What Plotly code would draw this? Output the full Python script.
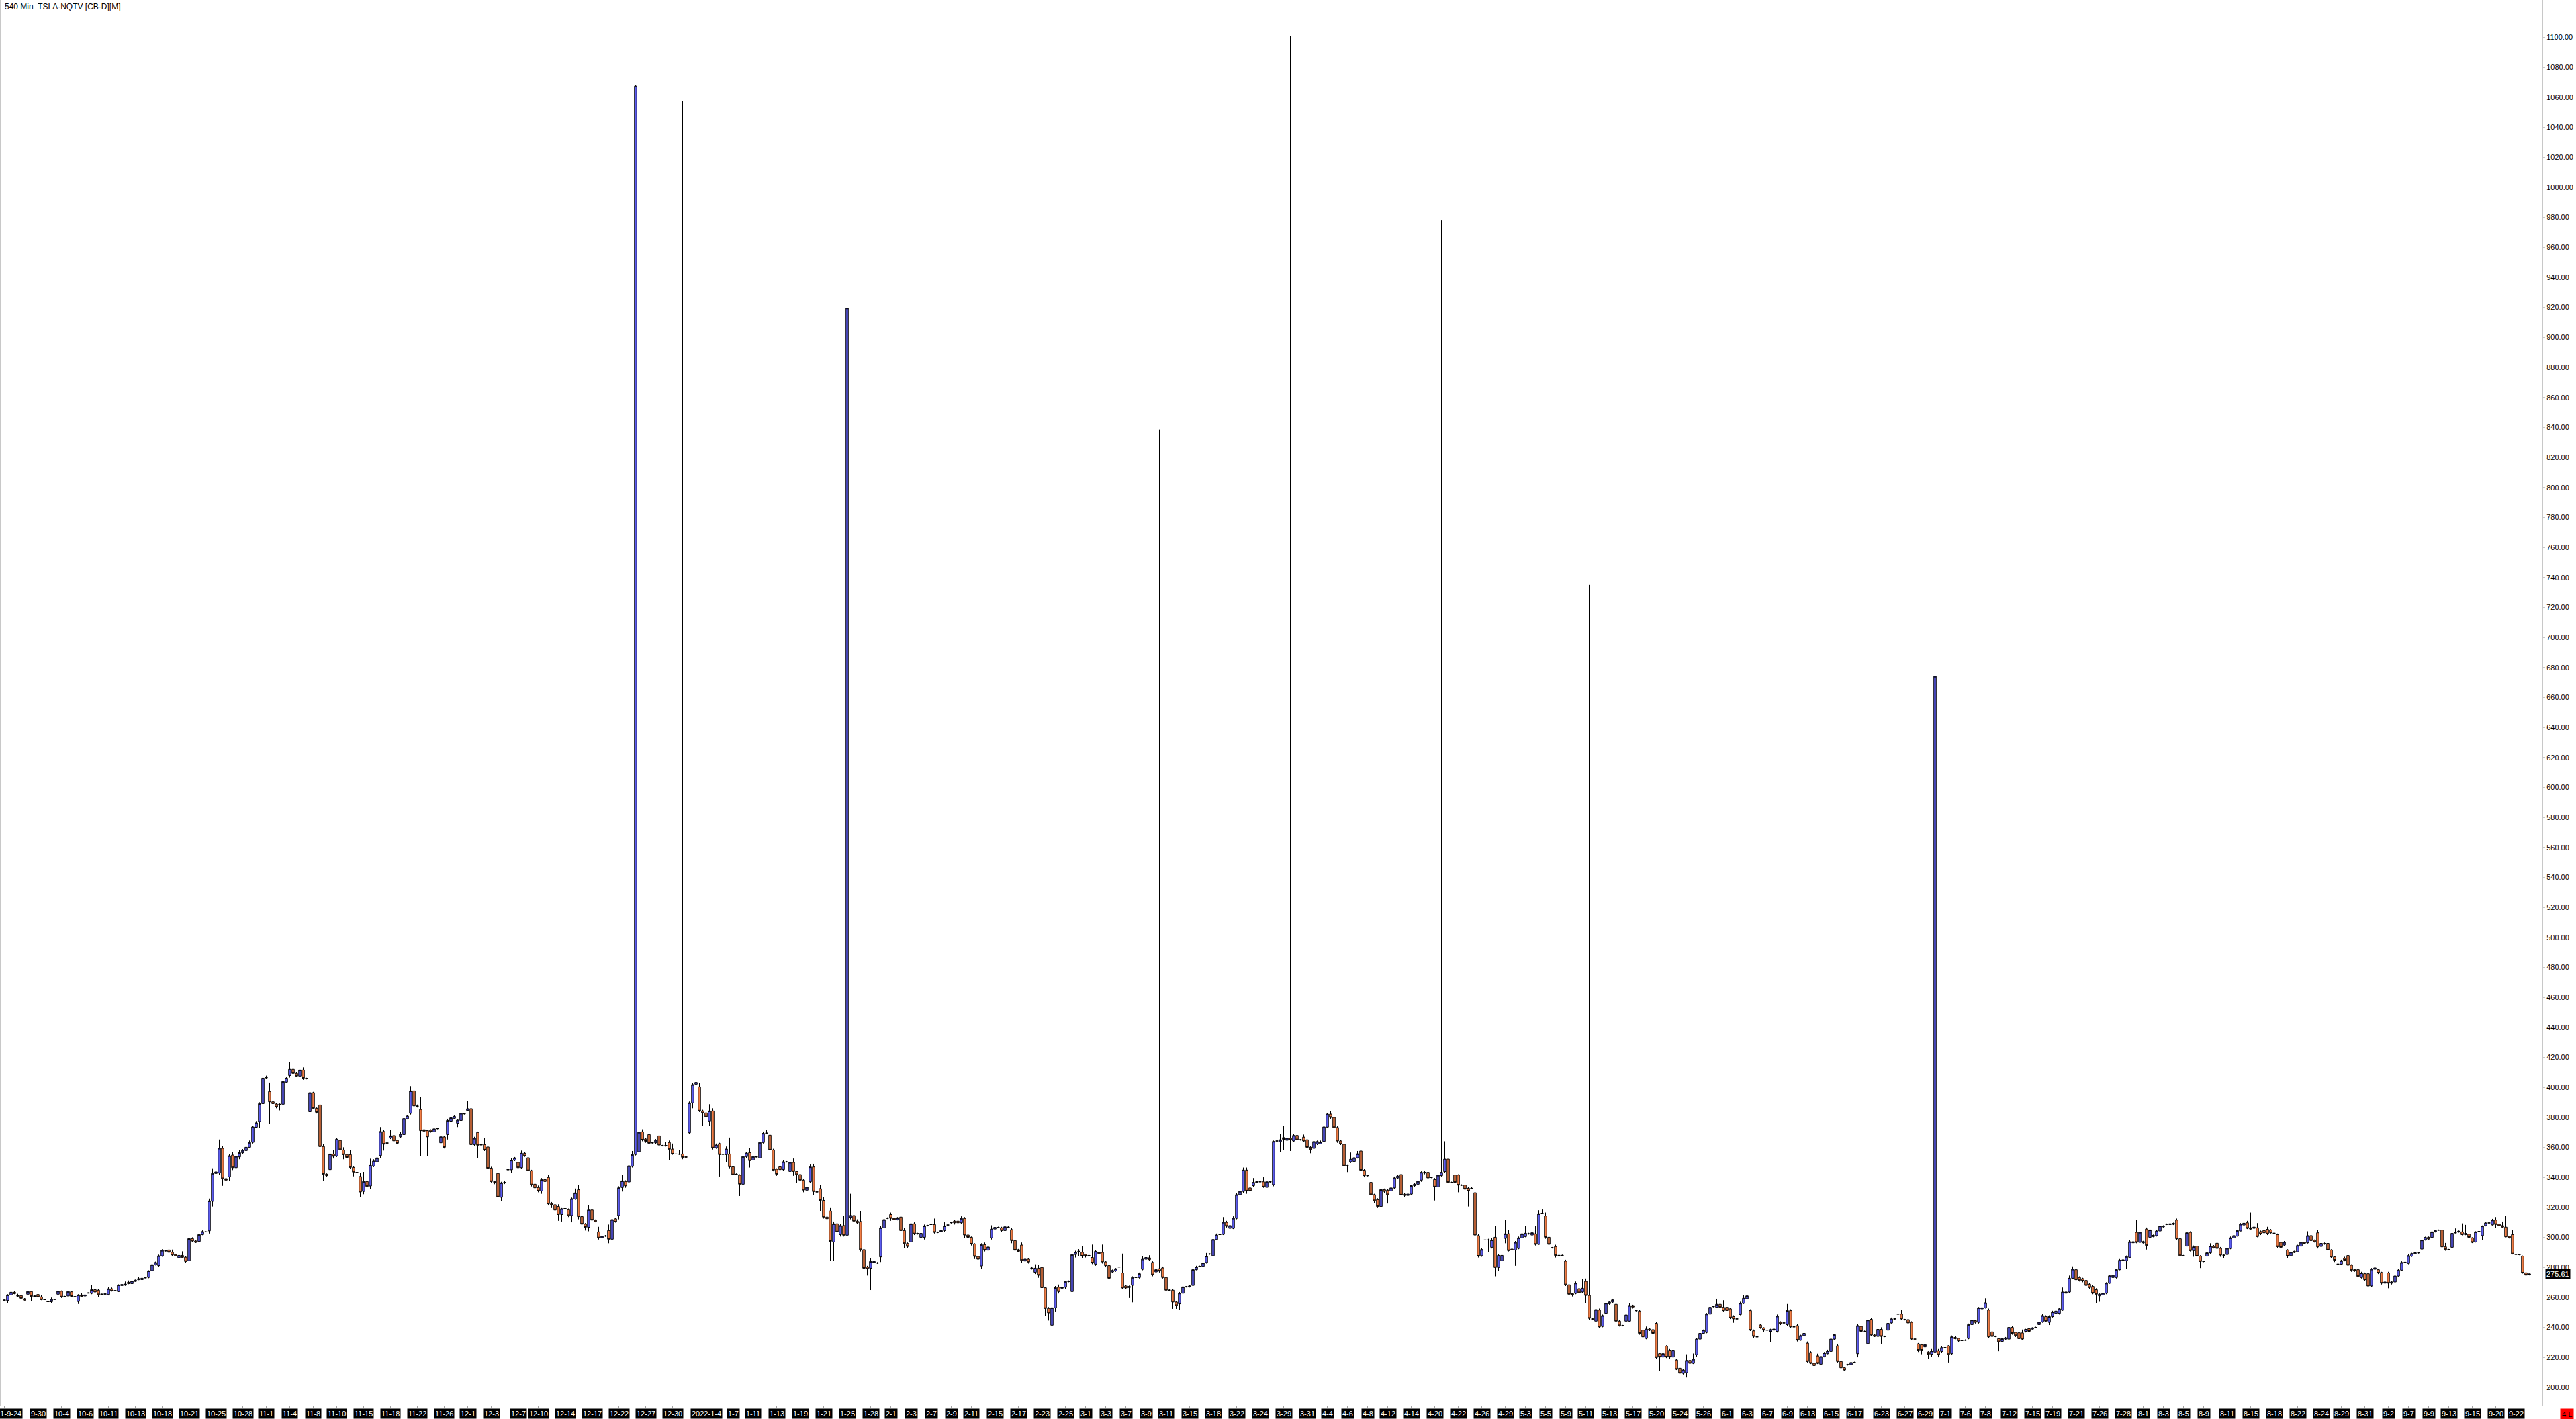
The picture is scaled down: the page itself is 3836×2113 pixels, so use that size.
import plotly.graph_objects as go

# ---------------- data (540-minute bars) ----------------
opens = [
258.0,257.8,261.5,263.3,261.0,261.1,259.0,262.0,263.8,260.6,
261.8,260.2,258.5,257.2,257.0,258.5,262.0,264.0,260.5,260.8,
263.6,260.4,257.2,261.5,260.8,262.7,262.6,265.0,264.7,262.0,
262.0,261.8,265.6,264.3,263.8,267.8,268.1,270.0,269.1,270.6,
271.7,271.8,273.0,273.3,277.8,281.7,281.1,287.6,290.9,291.5,
290.0,288.5,286.4,287.9,286.7,284.4,299.1,297.5,297.2,301.8,
303.6,304.3,324.0,342.6,342.9,359.3,339.1,340.3,354.8,346.4,
353.6,356.3,357.8,360.0,363.3,373.4,377.2,389.1,406.3,397.2,
390.3,388.8,388.7,388.7,403.5,407.9,412.0,409.3,407.5,411.5,
406.0,383.7,396.4,386.0,388.2,360.5,342.1,345.1,355.4,354.2,
364.6,358.2,355.2,355.1,346.6,343.3,340.5,330.6,337.2,334.2,
347.5,350.3,354.5,370.5,362.9,366.3,367.8,364.6,367.0,368.5,
379.0,382.7,397.6,387.5,385.2,371.7,371.1,371.4,370.3,372.4,
363.0,366.9,368.5,377.4,379.3,376.1,377.9,382.3,384.5,385.7,
361.8,369.9,361.8,361.8,360.2,346.1,337.0,342.6,326.7,336.4,
345.0,345.0,351.4,349.9,346.4,356.0,353.0,344.4,335.4,
333.2,330.9,338.5,339.9,322.4,321.7,320.5,315.2,319.0,318.4,
314.5,325.5,331.7,313.8,308.8,306.7,318.2,311.4,303.6,299.6,
300.8,304.5,298.7,312.3,314.5,333.2,337.2,336.9,347.3,355.2,
357.0,370.3,365.5,368.5,363.0,363.0,367.6,361.1,361.1,363.2,
358.8,355.5,355.5,355.5,353.6,369.7,389.6,402.1,400.3,384.2,
382.9,377.5,384.2,359.7,362.4,355.4,355.1,355.5,347.0,342.1,
341.4,335.4,353.8,356.4,351.5,353.6,352.9,363.2,369.4,368.1,
358.2,345.4,347.0,345.1,350.2,343.9,349.9,343.9,341.8,338.1,
331.4,337.0,346.9,330.3,332.4,324.6,313.5,317.5,296.9,309.0,
301.8,307.8,301.4,313.3,314.5,310.8,310.5,291.7,280.2,279.4,
283.0,282.9,286.9,306.3,312.7,315.2,312.7,311.8,313.5,304.5,
295.8,296.9,309.0,302.6,300.0,300.0,307.8,308.5,308.5,303.3,
303.6,304.5,308.2,309.7,310.8,310.8,309.7,312.6,301.5,300.0,
295.5,287.2,280.9,295.1,291.4,299.6,305.5,306.6,306.3,304.5,
306.8,305.1,297.8,291.7,294.8,284.2,285.4,279.5,276.7,279.4,
279.9,266.3,252.6,241.4,253.0,266.7,266.0,266.7,270.5,263.8,
288.5,290.6,290.0,288.5,287.9,286.5,282.1,290.0,289.9,283.6,
281.1,276.9,277.6,280.2,276.2,267.5,266.5,268.0,273.2,273.2,
278.7,285.4,286.3,283.2,276.9,279.0,279.6,273.2,264.7,264.7,
256.8,255.6,262.7,267.0,267.0,267.9,278.4,280.6,280.6,283.2,
288.8,287.7,298.5,301.8,302.0,310.0,306.0,306.0,312.7,328.4,
330.6,344.8,332.9,334.4,336.6,337.0,337.0,333.3,337.0,335.1,
364.2,363.8,366.5,364.7,366.0,364.2,367.9,365.0,366.8,365.0,
360.0,359.3,362.3,362.3,363.9,373.5,382.1,379.9,373.2,364.2,
362.0,347.6,350.3,350.5,353.0,357.5,344.7,341.1,336.6,328.4,
325.1,320.5,331.8,331.4,330.9,332.9,339.6,341.8,328.7,327.9,
328.8,334.4,335.4,338.1,342.9,343.3,339.9,338.5,333.6,341.1,
343.8,352.1,336.6,341.5,341.5,334.8,334.8,332.7,332.7,329.7,
301.1,287.7,298.2,298.2,293.3,300.0,279.9,284.4,299.3,302.3,
292.1,291.5,292.6,299.6,300.5,302.3,301.5,302.3,295.3,316.0,
314.2,300.0,293.0,293.8,287.9,287.9,284.1,268.3,262.4,262.6,
265.7,263.5,270.6,261.2,245.6,244.1,251.5,240.6,249.3,255.7,
256.8,255.3,244.1,241.1,244.1,244.1,254.5,251.1,250.8,238.1,
232.6,238.8,238.4,242.6,222.4,220.2,227.4,224.7,220.2,218.2,
212.7,209.3,209.7,217.9,216.0,221.7,232.1,235.9,236.6,248.8,
253.8,253.3,255.3,253.3,253.3,252.3,247.1,245.6,248.5,256.0,
259.0,251.1,237.6,233.6,241.5,239.6,238.1,237.3,238.1,237.3,
243.3,242.9,241.8,251.1,240.3,241.1,231.4,234.4,229.4,223.2,
216.0,220.9,215.4,220.5,222.4,223.9,232.1,227.6,217.2,213.0,
215.0,215.1,216.6,222.4,240.6,237.3,229.1,245.3,234.8,233.9,
238.6,233.9,238.1,242.9,245.6,248.8,248.8,245.1,245.1,243.3,
232.1,228.9,228.4,226.9,223.5,222.0,223.5,224.4,223.9,226.4,
227.6,222.4,233.2,232.6,231.1,231.4,232.6,241.8,244.4,243.3,
252.3,253.0,251.5,236.9,233.9,232.4,230.6,232.1,232.1,239.9,
236.6,236.3,236.2,237.3,239.1,238.8,239.9,241.8,243.6,247.1,
243.3,247.1,249.3,249.3,251.5,262.7,263.5,272.7,278.4,273.2,
272.4,271.2,268.7,267.2,265.0,260.9,261.5,262.7,269.4,273.2,
273.2,278.4,284.4,284.4,286.6,296.3,303.3,296.6,296.3,305.5,
300.0,300.5,301.1,304.2,307.0,308.7,308.5,308.7,311.5,299.0,
287.7,294.1,303.3,291.1,294.1,287.4,283.9,287.4,289.6,294.1,
296.0,292.6,288.0,288.5,292.6,299.6,300.8,304.2,308.2,309.7,
306.3,306.0,306.3,303.8,304.5,305.3,304.9,302.7,301.8,296.6,
294.8,291.5,287.7,290.6,290.3,294.1,296.6,296.3,301.1,298.1,
303.0,293.9,295.9,295.9,291.5,286.9,282.1,282.1,285.9,287.8,
281.4,278.4,278.4,273.2,275.7,275.7,267.5,278.7,278.4,276.5,
269.4,276.2,269.4,270.2,274.2,278.1,283.4,282.6,287.4,289.1,
289.6,292.1,298.4,300.0,299.9,303.6,304.8,304.8,293.6,291.8,
293.3,303.0,303.5,303.6,301.8,302.1,299.6,296.9,303.9,301.1,
307.8,309.6,308.3,311.5,308.9,307.8,306.8,300.6,301.8,288.6,
288.4,287.4,276.3,274.9,
]

highs = [
258.3,262.0,266.7,264.0,262.3,261.6,259.4,265.0,264.2,261.2,
263.5,261.5,258.8,257.6,259.8,258.8,269.1,264.5,260.9,264.5,
264.0,260.6,262.0,262.8,261.8,263.2,268.2,265.8,265.5,262.3,
262.5,266.8,266.5,264.6,268.6,271.0,270.5,271.2,271.5,271.8,
273.5,273.0,273.3,278.0,282.2,283.8,288.4,292.0,291.3,293.3,
291.8,289.0,288.4,290.6,287.2,301.0,300.0,297.9,302.5,304.6,
304.0,325.8,346.0,345.5,365.2,361.0,340.5,355.5,356.9,357.5,
358.0,358.8,360.8,364.5,374.5,377.5,390.0,408.5,407.8,403.2,
396.9,389.5,389.2,405.5,406.7,417.0,413.8,410.0,413.3,413.3,
406.4,399.1,397.0,386.5,396.0,362.0,342.6,359.6,358.0,366.0,
373.5,360.0,356.0,358.0,347.2,344.0,343.0,343.6,338.0,352.4,
352.0,353.5,373.5,371.5,363.3,371.5,368.5,365.0,370.3,380.0,
381.5,400.8,399.3,388.5,393.6,378.7,371.8,372.0,377.5,373.0,
368.0,367.5,379.0,380.5,381.2,378.5,389.9,383.0,390.9,387.9,
367.0,370.5,362.2,366.4,366.4,347.0,337.6,343.5,337.0,337.8,
348.8,352.6,353.5,350.5,357.8,356.6,354.8,345.0,336.0,
334.5,339.5,340.0,341.4,323.5,322.5,322.0,319.5,319.8,319.2,
326.5,332.5,334.8,314.5,309.5,321.5,321.5,311.9,307.0,301.2,
301.5,308.5,312.5,312.8,334.0,341.5,338.0,349.5,357.5,1068.0,
372.5,372.0,366.0,372.5,363.5,365.5,371.0,361.6,363.5,364.5,
362.5,356.0,358.0,1057.5,354.0,390.5,403.0,404.5,403.0,385.0,
383.5,388.7,386.0,362.5,363.0,356.0,360.5,366.5,347.5,342.6,
342.0,355.0,357.0,359.5,354.5,354.0,364.0,370.5,371.5,370.5,
359.0,346.0,348.0,351.5,350.8,350.5,352.5,344.5,352.5,339.0,
334.5,348.5,349.0,331.0,334.8,326.8,314.0,319.5,310.5,310.5,
309.0,314.5,919.5,329.0,329.4,312.0,317.5,292.5,281.0,286.0,
285.5,283.5,307.5,313.0,313.3,316.5,313.0,313.5,314.0,306.0,
296.5,310.0,310.0,303.0,303.5,308.5,308.3,309.0,312.5,303.8,
305.0,310.0,308.7,310.3,311.5,312.5,314.0,313.5,302.0,300.5,
296.0,288.0,296.0,296.5,294.0,308.0,307.5,307.1,307.0,307.8,
307.3,306.0,298.5,292.2,296.5,286.0,286.0,280.5,282.0,281.5,
281.0,267.0,253.5,254.0,267.5,268.5,267.5,271.0,271.2,289.5,
291.0,292.1,293.9,289.0,288.4,295.1,291.5,290.5,295.1,284.0,
282.0,278.5,279.5,281.5,289.1,268.0,267.8,274.0,273.8,276.5,
287.2,287.0,288.0,284.0,279.0,838.5,280.5,274.0,265.2,265.5,
257.5,263.5,267.5,267.5,268.0,279.0,281.0,281.1,283.5,289.5,
289.3,299.5,302.5,302.3,313.5,311.0,308.5,314.0,329.5,331.5,
346.5,346.5,334.0,339.5,337.5,337.5,340.0,338.0,337.5,364.5,
364.7,369.0,374.5,367.0,1101.0,369.0,369.5,365.5,368.5,366.0,
361.0,365.0,364.5,364.5,374.5,383.0,384.0,384.5,374.0,365.0,
363.0,348.2,356.5,354.0,357.5,359.5,345.5,341.6,337.5,329.0,
326.0,335.0,332.5,332.0,334.0,340.5,341.5,342.5,329.5,329.5,
335.0,336.0,338.0,344.0,344.5,344.0,340.4,339.5,342.5,978.0,
364.0,353.0,337.1,347.5,342.0,335.3,335.5,333.5,333.5,330.5,
302.0,293.0,300.5,299.0,299.5,307.5,289.0,288.5,311.5,305.0,
293.0,297.5,300.5,303.5,307.5,303.0,303.5,307.5,318.0,318.5,
316.5,300.5,293.5,295.0,289.5,288.4,285.0,269.0,263.0,270.5,
266.5,272.0,272.5,735.0,246.0,253.0,252.5,248.5,260.5,257.5,
259.0,257.5,245.0,241.6,249.0,256.0,255.0,251.6,251.5,239.0,
240.5,239.5,239.0,243.5,223.0,223.0,228.0,225.5,225.5,219.0,
213.5,212.0,222.0,218.5,222.5,233.0,236.5,238.5,249.5,254.5,
254.3,259.0,256.0,258.0,254.0,253.0,248.0,246.1,257.0,261.5,
261.5,252.0,238.5,234.1,242.0,240.0,238.6,239.0,239.5,248.5,
244.0,243.4,255.5,252.0,240.8,242.0,235.0,236.5,230.5,224.0,
216.5,222.4,221.0,223.5,225.0,232.8,235.5,229.0,218.0,213.5,
215.6,217.5,217.1,242.0,243.4,237.8,247.0,246.0,235.5,239.5,
240.0,234.4,243.5,246.5,246.1,249.3,251.8,245.6,248.5,244.0,
232.6,229.5,229.0,229.0,224.0,225.5,674.0,225.5,227.5,226.9,
228.0,234.5,234.0,233.0,231.6,231.9,242.5,245.5,245.0,253.5,
253.5,259.3,252.5,237.5,234.4,233.0,233.0,233.5,242.5,241.0,
237.0,237.0,238.5,239.0,240.5,240.0,240.4,244.0,249.0,248.0,
248.0,251.0,251.5,253.0,266.5,266.5,274.5,280.6,280.0,274.0,
273.0,272.0,269.5,268.0,266.0,262.5,263.2,270.0,275.0,275.0,
279.0,285.5,285.5,287.8,298.0,297.5,311.5,304.0,297.6,306.5,
306.5,301.8,304.8,308.0,308.0,309.2,311.5,309.8,312.5,299.5,
288.2,304.0,304.0,294.5,295.0,288.0,284.4,292.0,296.0,294.8,
297.5,293.5,288.5,293.5,300.5,302.0,305.0,309.5,314.5,311.0,
316.5,307.5,309.5,304.5,305.0,307.0,305.5,303.2,302.5,297.5,
297.5,292.0,290.5,291.0,295.0,298.5,297.0,304.0,302.0,298.5,
305.0,296.5,296.5,296.5,292.0,287.5,282.6,285.0,287.0,292.0,
282.0,279.0,279.0,277.0,276.5,276.5,279.5,281.0,279.0,277.0,
270.8,277.0,271.0,275.0,279.0,284.0,283.9,289.0,289.6,290.1,
290.1,298.5,300.4,300.5,305.3,305.0,305.2,307.4,296.2,292.2,
303.0,305.9,304.5,309.3,308.3,302.5,300.0,304.0,304.3,307.9,
310.0,310.0,312.3,313.5,309.3,310.5,314.2,301.0,305.1,292.9,
288.8,287.8,279.4,275.8,
]

lows = [
257.8,256.3,261.0,262.0,260.2,256.0,257.8,261.5,257.5,260.3,
259.8,258.0,258.1,255.1,256.0,258.3,261.5,259.5,260.0,260.2,
260.0,260.0,255.5,260.2,260.5,262.5,262.0,263.0,260.0,261.7,
261.8,261.2,263.8,264.0,263.5,267.3,267.6,268.7,268.8,270.3,
271.4,271.4,272.7,272.7,277.4,281.2,280.2,287.0,290.5,289.5,
287.5,287.2,285.9,286.0,283.0,283.8,297.0,296.2,296.8,301.4,
303.3,302.5,320.5,341.0,341.5,334.3,337.4,337.6,344.8,346.0,
352.0,355.5,357.0,359.5,362.5,372.8,372.8,388.5,405.5,375.7,
384.3,386.0,384.6,384.6,402.8,406.5,408.5,407.0,402.9,405.0,
405.3,377.2,385.3,382.5,344.3,337.6,340.5,329.4,352.5,353.5,
357.5,352.0,352.5,345.5,340.6,342.5,326.9,328.7,333.0,332.4,
346.8,349.8,353.0,357.8,362.3,365.5,358.4,362.0,366.2,368.2,
378.5,381.8,386.5,386.5,354.3,370.0,354.3,369.8,369.8,372.0,
357.8,359.2,365.2,377.0,379.0,373.5,372.7,381.8,384.0,361.0,
361.0,352.9,361.2,357.5,345.0,336.5,335.4,317.5,324.2,335.5,
337.0,342.8,350.8,343.6,345.8,353.6,343.8,333.9,331.0,
330.0,329.0,336.5,321.2,319.5,317.0,311.0,310.5,318.5,313.5,
310.0,325.0,312.0,307.0,304.5,304.0,310.5,310.0,298.5,299.0,
300.3,296.0,296.3,309.8,312.0,330.5,333.0,336.0,346.5,354.5,
356.0,364.0,363.0,360.5,362.5,362.2,355.0,360.6,360.5,351.5,
355.0,355.0,354.9,352.0,353.0,369.0,386.0,401.0,383.5,374.5,
379.5,374.5,358.5,359.0,340.5,354.8,350.0,346.0,337.0,341.5,
327.5,335.0,353.0,346.5,350.8,353.2,352.0,362.5,369.0,357.5,
344.0,341.0,332.0,344.5,349.8,337.5,341.0,336.0,335.5,330.0,
330.5,336.0,328.0,329.0,317.5,312.5,311.5,284.5,284.3,302.5,
300.5,300.5,300.5,312.0,293.6,309.0,290.5,274.0,274.5,264.8,
282.5,282.3,283.5,305.5,312.2,311.0,311.0,311.3,303.0,293.0,
293.0,295.5,301.5,301.8,293.5,298.5,307.3,308.0,302.5,302.8,
300.0,303.5,307.7,309.2,308.5,309.0,309.0,299.5,298.0,294.5,
285.5,284.5,279.0,290.5,290.5,298.5,305.0,306.1,303.5,302.5,
306.2,296.0,289.5,290.0,283.0,281.5,282.5,278.5,275.5,273.0,
264.5,247.5,244.5,231.0,250.5,262.5,265.2,265.5,270.0,262.5,
286.5,287.4,285.9,286.5,287.3,282.1,281.0,288.5,282.5,280.0,
271.5,276.0,277.0,279.5,265.5,265.5,259.5,256.6,272.6,272.5,
278.0,285.0,284.5,274.0,276.0,276.5,272.5,263.5,264.2,252.3,
252.3,251.8,262.0,266.5,266.5,267.0,278.0,280.1,280.0,282.5,
288.3,287.0,298.0,301.3,301.5,306.5,305.5,305.5,312.0,327.0,
329.5,329.0,328.5,333.5,336.0,336.5,333.0,332.5,336.5,334.0,
363.7,357.0,358.0,364.0,357.5,363.5,364.0,364.5,363.5,358.0,
356.0,355.0,361.5,362.0,363.0,373.0,379.0,372.5,363.0,361.5,
346.5,343.5,349.5,349.5,352.5,344.0,340.0,340.6,327.5,323.0,
319.5,320.0,329.5,322.5,330.0,332.0,339.0,327.5,327.0,327.0,
328.0,333.5,333.0,337.0,342.0,339.0,339.4,324.5,333.0,340.5,
343.0,335.5,336.1,335.0,330.0,334.3,328.5,320.5,332.0,300.5,
286.5,287.0,287.5,290.0,292.5,274.0,277.5,284.0,296.0,290.5,
291.0,281.0,292.0,299.0,300.0,301.8,298.0,294.5,295.0,315.5,
299.0,294.0,292.5,286.5,281.5,287.4,267.5,261.0,260.5,262.0,
262.0,263.0,256.0,245.0,245.0,226.5,239.5,240.0,248.5,255.0,
256.0,243.0,240.5,240.6,243.5,243.5,252.5,250.6,235.0,233.0,
232.0,237.5,235.0,219.0,211.0,219.5,219.5,219.0,214.0,211.5,
207.0,208.5,206.5,215.5,215.5,220.5,231.5,235.5,236.0,248.0,
253.3,253.0,250.5,250.5,250.5,245.5,243.0,245.1,248.0,255.5,
258.5,237.5,233.0,233.1,239.0,237.0,237.6,230.0,237.5,236.5,
241.5,242.4,241.0,239.5,239.8,230.5,231.0,234.0,216.5,215.5,
213.5,215.5,214.0,220.0,222.0,223.0,231.5,216.5,208.5,211.0,
214.5,214.5,216.1,220.0,236.5,236.8,228.5,234.0,233.5,229.0,
229.0,233.4,237.5,242.5,245.1,248.3,245.0,244.6,242.0,231.5,
231.6,223.5,222.0,226.5,219.0,220.5,222.0,220.0,223.0,225.9,
216.5,221.5,232.0,230.0,227.5,230.9,232.0,241.0,242.5,242.5,
251.8,252.5,233.0,233.0,233.4,224.0,230.0,231.5,231.5,235.0,
233.5,231.5,231.5,236.5,236.5,238.5,239.4,241.0,243.0,243.5,
241.5,246.5,248.5,248.5,251.0,262.0,263.0,272.0,271.0,270.5,
270.0,267.0,265.5,262.0,256.0,257.0,261.0,262.0,269.0,272.5,
272.5,278.0,284.0,279.0,286.0,295.8,296.0,296.0,295.8,291.8,
299.5,300.0,300.5,303.5,306.5,308.2,308.0,308.2,298.0,284.0,
287.2,293.5,290.5,287.0,282.5,279.5,283.4,287.0,289.0,292.5,
292.0,287.0,286.0,288.0,292.0,299.0,300.5,304.0,307.5,305.5,
305.0,305.5,300.0,301.5,302.5,301.5,302.5,302.2,293.0,292.0,
294.0,286.0,287.0,289.5,290.0,293.5,295.5,295.8,297.0,296.5,
292.5,293.5,295.0,291.0,286.0,283.5,281.6,281.5,284.0,280.5,
277.0,277.0,270.0,272.5,271.0,266.5,267.0,278.0,275.5,268.5,
269.0,266.0,268.5,269.5,273.5,277.5,282.9,282.0,286.9,288.6,
289.1,291.5,297.8,298.3,299.5,303.2,304.4,291.7,291.0,291.4,
290.6,302.6,303.1,301.3,301.4,299.5,296.1,296.5,303.5,298.1,
307.3,309.2,307.9,306.3,307.4,306.4,300.0,299.2,288.5,286.2,
288.0,275.8,273.0,274.6,
]

closes = [
258.1,261.5,263.3,262.4,260.8,259.3,258.0,263.8,260.5,260.8,
260.2,258.4,258.4,257.0,258.5,258.6,264.0,260.2,260.5,263.8,
260.6,260.3,261.5,260.6,261.5,262.9,265.0,263.5,261.7,262.0,
262.2,265.6,264.2,264.4,268.2,268.5,268.8,269.1,270.8,271.4,
272.4,272.7,273.0,277.6,281.7,283.2,287.6,291.2,290.9,290.0,
288.2,287.6,287.9,286.6,283.9,299.1,297.5,296.6,301.8,303.8,
303.6,324.2,342.6,343.6,359.3,339.1,338.1,354.3,346.4,353.9,
356.4,357.9,360.0,363.2,373.6,376.3,389.1,406.1,406.5,390.3,
389.1,386.9,388.6,403.9,406.1,412.0,409.3,407.5,411.5,406.1,
405.8,396.4,386.0,383.3,360.5,342.1,341.1,355.5,354.0,365.4,
358.4,355.1,353.2,346.6,343.5,343.1,330.2,337.2,333.9,347.9,
350.8,352.9,370.5,362.1,362.8,367.6,364.3,362.7,368.7,379.1,
380.8,397.6,387.6,387.4,371.1,370.8,367.0,370.3,372.3,372.5,
367.0,360.0,377.9,379.6,380.6,378.1,382.6,382.3,385.7,361.8,
366.0,361.4,361.6,358.2,346.0,337.2,336.8,326.9,336.3,336.5,
345.1,351.4,352.9,346.4,356.0,354.2,344.4,335.0,333.0,
330.9,338.4,337.2,322.3,321.5,318.2,315.2,319.0,319.2,314.5,
325.7,329.6,313.8,308.8,306.7,318.2,311.5,310.5,299.6,300.6,
300.9,298.7,311.8,310.3,333.0,337.6,334.3,347.6,355.1,1067.5,
370.0,364.9,364.0,362.7,363.0,364.6,361.5,361.1,361.2,358.7,
355.5,355.5,355.4,353.3,353.4,389.6,401.8,403.3,384.2,382.9,
380.2,384.2,359.6,361.5,355.1,355.3,358.8,347.0,341.7,342.0,
335.4,353.8,356.1,351.1,353.8,353.6,363.2,369.3,369.5,358.2,
344.8,342.1,345.1,350.3,350.2,349.9,343.9,341.8,338.1,331.5,
333.3,346.9,330.5,330.2,324.6,313.5,312.4,297.3,309.0,303.6,
307.8,301.4,919.5,314.5,310.8,309.7,291.7,279.4,279.0,283.9,
283.9,282.9,306.3,311.8,312.8,312.7,311.8,313.0,304.5,295.8,
293.9,309.0,302.3,302.3,302.6,307.6,307.8,308.6,303.3,303.4,
304.5,307.6,308.2,309.8,309.7,309.7,312.6,301.5,300.0,295.5,
287.2,285.4,295.1,291.4,293.5,305.5,306.6,306.6,304.5,307.0,
306.7,297.8,291.4,290.6,284.6,285.4,283.5,279.4,279.4,274.7,
266.4,252.6,249.6,253.0,266.4,263.8,266.7,270.5,270.6,288.4,
290.0,290.6,287.4,287.4,287.8,282.9,290.6,289.1,283.6,281.1,
272.7,277.9,279.0,280.2,266.2,266.2,267.2,273.2,273.2,275.7,
285.4,286.5,285.1,275.0,278.4,277.5,273.2,264.7,264.7,256.8,
254.5,262.7,266.9,267.0,267.5,278.4,280.2,280.6,282.9,287.4,
288.8,298.5,301.5,301.8,310.0,307.4,307.8,312.7,328.4,330.6,
344.8,330.9,330.9,336.6,337.0,337.0,333.6,337.0,337.0,363.9,
364.2,365.0,365.3,366.0,365.0,367.9,365.0,365.0,364.2,360.0,
358.5,363.8,363.8,363.5,373.6,382.1,379.9,373.2,364.2,362.3,
347.5,347.6,352.0,353.0,355.6,344.7,341.1,341.1,328.4,324.4,
320.5,331.8,330.6,328.4,332.9,339.6,340.8,328.2,327.9,328.8,
334.4,335.4,337.3,343.3,343.3,339.6,339.9,333.6,341.4,343.3,
352.1,336.6,336.6,336.6,334.8,334.8,332.1,330.9,332.6,301.5,
287.4,291.8,298.2,298.2,298.2,279.9,287.9,287.9,302.3,291.1,
291.5,296.6,299.6,302.3,302.7,302.3,303.0,295.3,315.7,316.0,
300.0,295.3,293.0,287.8,287.9,287.9,268.3,262.0,261.5,269.4,
263.0,266.0,261.2,246.0,245.5,251.8,240.3,247.8,256.0,256.8,
258.2,244.1,241.1,241.1,248.2,254.5,253.5,251.1,235.9,233.6,
238.8,238.1,235.9,219.9,220.2,222.4,220.2,220.2,224.7,212.0,
209.4,211.5,217.9,216.0,218.7,232.1,235.9,238.1,248.8,253.3,
253.8,255.3,253.3,251.1,251.2,246.3,245.6,245.6,256.0,259.3,
260.9,238.1,233.9,233.6,239.6,238.1,238.1,238.4,238.8,247.4,
242.3,242.9,251.1,240.3,240.3,231.4,234.4,235.9,217.2,216.0,
214.5,216.0,220.5,222.9,224.2,232.1,235.1,217.2,213.0,211.5,
215.1,216.5,216.6,241.1,237.3,237.3,244.8,234.8,233.9,238.6,
233.9,233.9,242.6,245.6,245.6,248.8,245.6,245.1,242.9,232.1,
232.1,224.7,224.7,228.4,222.0,224.2,674.0,221.7,226.4,226.4,
221.9,233.6,232.4,230.9,231.1,231.4,241.8,244.8,243.3,253.0,
253.0,256.3,233.6,233.9,233.9,230.3,232.4,232.9,239.9,235.9,
234.4,232.4,232.1,238.6,237.3,239.6,239.9,243.3,247.8,244.1,
247.1,250.3,250.8,252.3,263.5,263.5,272.7,278.7,271.7,271.2,
270.9,267.9,266.5,262.7,262.0,262.0,262.7,269.4,274.3,274.6,
278.4,284.7,284.9,287.1,297.0,297.0,296.6,303.3,297.1,294.5,
304.9,301.3,304.2,307.5,307.5,308.7,309.0,309.3,299.0,287.7,
287.7,303.0,291.1,293.6,287.4,283.9,283.9,289.6,294.1,293.0,
292.6,288.1,288.0,292.6,299.6,301.1,304.5,308.7,309.4,306.0,
305.5,306.8,300.5,302.3,303.0,302.3,303.0,302.7,293.8,293.3,
296.6,287.4,290.0,289.9,294.5,296.6,296.0,301.1,297.8,297.0,
293.6,295.9,295.5,291.5,286.9,284.7,282.1,284.4,284.7,281.4,
278.1,277.6,273.9,276.2,271.7,267.5,278.7,279.6,276.2,269.4,
270.2,269.4,270.2,274.2,278.1,283.2,283.4,287.7,289.1,289.6,
289.6,298.1,299.9,298.8,303.6,304.5,304.8,293.6,291.8,291.8,
302.6,303.0,304.1,301.8,302.6,300.0,296.6,303.6,303.9,307.5,
309.6,309.6,311.5,308.6,307.8,306.8,300.3,299.6,288.9,288.6,
288.4,276.2,274.8,275.61,
]

tick_labels = [
"2021-9-24","9-30","10-4","10-6","10-11","10-13","10-18","10-21","10-25","10-28",
"11-1","11-4","11-8","11-10","11-15","11-18","11-22","11-26","12-1","12-3",
"12-7","12-10","12-14","12-17","12-22","12-27","12-30","2022-1-4","1-7","1-11",
"1-13","1-19","1-21","1-25","1-28","2-1","2-3","2-7","2-9","2-11",
"2-15","2-17","2-23","2-25","3-1","3-3","3-7","3-9","3-11","3-15",
"3-18","3-22","3-24","3-29","3-31","4-4","4-6","4-8","4-12","4-14",
"4-20","4-22","4-26","4-29","5-3","5-5","5-9","5-11","5-13","5-17",
"5-20","5-24","5-26","6-1","6-3","6-7","6-9","6-13","6-15","6-17",
"6-23","6-27","6-29","7-1","7-6","7-8","7-12","7-15","7-19","7-21",
"7-26","7-28","8-1","8-3","8-5","8-9","8-11","8-15","8-18","8-22",
"8-24","8-29","8-31","9-2","9-7","9-9","9-13","9-15","9-20","9-22",
]
# bar number under each date label
tick_bars = [
0,10,17,24,31,39,47,55,63,71,
78,85,92,99,107,115,123,131,138,145,
153,159,167,175,183,191,199,209,217,223,
230,237,244,251,258,264,270,276,282,288,
295,302,309,316,322,328,334,340,346,353,
360,367,374,381,388,394,400,406,412,419,
426,433,440,447,453,459,465,471,478,485,
492,499,506,513,519,525,531,537,544,551,
559,566,572,578,584,590,597,604,610,617,
624,631,637,643,649,655,662,669,676,683,
690,696,703,710,716,722,728,735,742,748,
]

price_ticks = list(range(200, 1101, 20))
last_price = 275.61
chart_title = "540 Min\u00a0 TSLA-NQTV [CB-D][M]"
status_text = "4 L"

n = len(closes)
assert len(opens) == n and len(highs) == n and len(lows) == n, (len(opens), len(highs), len(lows), n)
assert len(tick_labels) == len(tick_bars)

W, H = 3836, 2113
FONT = "Liberation Sans, Arial, sans-serif"
BLUE = "#5C5CF0"
ORANGE = "#F27D45"
AXIS = "#C8C8C8"

fig = go.Figure()
fig.add_trace(go.Candlestick(
    x=list(range(n)), open=opens, high=highs, low=lows, close=closes,
    increasing=dict(fillcolor=BLUE, line=dict(color="black", width=1)),
    decreasing=dict(fillcolor=ORANGE, line=dict(color="black", width=1)),
    whiskerwidth=0, hoverinfo="skip", showlegend=False,
))

annotations = []
for lab, b in zip(tick_labels, tick_bars):
    annotations.append(dict(
        x=b, xref="x", y=0, yref="paper", yanchor="top", xanchor="center",
        yshift=-4, text=lab, showarrow=False, bgcolor="black",
        font=dict(family=FONT, size=11, color="white"), borderpad=1,
    ))
annotations.append(dict(
    x=0, xref="paper", y=1, yref="paper", xanchor="left", yanchor="top",
    xshift=4, yshift=-1, text=chart_title, showarrow=False,
    font=dict(family=FONT, size=12, color="black"),
))
annotations.append(dict(
    x=1, xref="paper", y=last_price, yref="y", xanchor="left", yanchor="middle",
    xshift=4, text=f"{last_price:.2f}", showarrow=False, bgcolor="black",
    font=dict(family=FONT, size=11, color="white"), borderpad=1,
))
annotations.append(dict(
    x=1, xref="paper", y=0, yref="paper", xanchor="left", yanchor="top",
    xshift=26, yshift=-4, text=status_text, showarrow=False, bgcolor="#FF0000",
    font=dict(family=FONT, size=11, color="black"), borderpad=2,
))

# x range chosen so bar centres fall on pixel centres (crisp 1px wicks)
fig.update_layout(
    width=W, height=H, autosize=False,
    margin=dict(l=1, r=50, t=0, b=20, pad=0),
    paper_bgcolor="white", plot_bgcolor="white",
    font=dict(family=FONT, size=11, color="black"),
    showlegend=False,
    boxgap=0.3, boxgroupgap=0,
    annotations=annotations,
    xaxis=dict(
        range=[-1.1, 755.9], showgrid=False, zeroline=False,
        showline=True, linecolor=AXIS, linewidth=1,
        ticks="outside", ticklen=3, tickcolor="#A0A0A0",
        tickvals=tick_bars, showticklabels=False,
        rangeslider=dict(visible=False), fixedrange=True,
    ),
    yaxis=dict(
        side="right", range=[187.8, 1124.9], showgrid=False, zeroline=False,
        showline=True, linecolor=AXIS, linewidth=1, mirror=True,
        ticks="outside", ticklen=3, tickcolor=AXIS,
        tickvals=price_ticks, ticktext=[f"{v:.2f}" for v in price_ticks],
        tickfont=dict(family=FONT, size=11, color="black"), fixedrange=True,
    ),
)

fig.write_html(
    "out.html",
    config={"displayModeBar": False, "staticPlot": True},
    post_script="document.body.style.margin='0';document.body.style.overflow='hidden';",
)
